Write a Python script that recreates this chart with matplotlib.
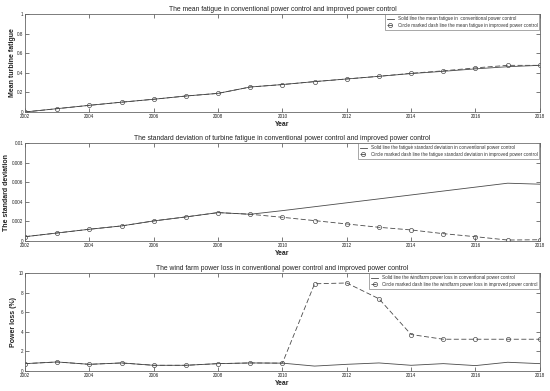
import numpy as np
import matplotlib
matplotlib.use('Agg')
import matplotlib.pyplot as plt
from matplotlib.ticker import FormatStrFormatter

plt.rcParams['font.family'] = ['Liberation Sans', 'DejaVu Sans']

# 年份
years = list(range(2002, 2019))

# 平均疲劳
mean_conv = [0.0, 0.034, 0.068, 0.10, 0.13, 0.163, 0.19, 0.255, 0.28,
             0.31, 0.337, 0.364, 0.392, 0.415, 0.44, 0.462, 0.476]
mean_impr = [0.0, 0.034, 0.068, 0.10, 0.13, 0.163, 0.19, 0.255, 0.28,
             0.31, 0.337, 0.364, 0.395, 0.42, 0.45, 0.476, 0.476]

# 疲劳标准差
std_conv = [0.00044, 0.00082, 0.0012, 0.00154, 0.00205, 0.00246, 0.0029, 0.00273,
            0.0031, 0.0035, 0.0039, 0.0043, 0.0047, 0.0051, 0.0055, 0.0059, 0.0058]
std_impr = [0.00044, 0.00082, 0.0012, 0.00154, 0.00205, 0.00246, 0.0029, 0.00273,
            0.00242, 0.00208, 0.00174, 0.0014, 0.00113, 0.00075, 0.00044, 0.0001, 0.00013]

# 功率损失
loss_conv = [0.75, 0.92, 0.68, 0.82, 0.58, 0.58, 0.75, 0.82, 0.8,
             0.5, 0.68, 0.82, 0.58, 0.75, 0.55, 0.89, 0.75]
loss_impr = [0.75, 0.92, 0.68, 0.82, 0.58, 0.58, 0.75, 0.82, 0.8,
             8.9, 8.98, 7.37, 3.72, 3.24, 3.24, 3.24, 3.24]

titles = [
    'The mean fatigue in conventional power control and improved power control',
    'The standard deviation of turbine fatigue in conventional power control and improved power control',
    'The wind farm power loss in conventional power control and improved power control',
]
ylabels = ['Mean turbine fatigue', 'The standard deviation', 'Power loss (%)']
legends = [
    ['Solid line the mean fatigue in  conventional power control',
     'Circle marked dash line the mean fatigue in improved power control'],
    ['Solid line the fatigue standard deviation in conventional power control',
     'Circle marked dash line the fatigue standard deviation in improved power control'],
    ['Solid line the windfarm power loss in conventional power control',
     'Circle marked dash line the windfarm power loss in improved power control'],
]
ylims = [(0, 1), (0, 0.01), (0, 10)]
yticks = [np.arange(0, 1.01, 0.2), np.arange(0, 0.0101, 0.002), np.arange(0, 10.1, 2)]
series = [(mean_conv, mean_impr), (std_conv, std_impr), (loss_conv, loss_impr)]

fig = plt.figure(figsize=(5.5, 3.91), dpi=100)
bottoms = [0.7136, 0.3836, 0.0512]
ylab_x = [-0.018, -0.030, -0.016]
line_col = '#4a4a4a'
txt_col = '#222222'

for i in range(3):
    ax = fig.add_axes([0.0455, bottoms[i], 0.936, 0.2506])
    conv, impr = series[i]
    ax.plot(years, conv, '-', color=line_col, lw=0.6, label=legends[i][0])
    ax.plot(years, impr, '--', color=line_col, lw=0.6, dashes=(6, 3),
            marker='o', ms=3.0, mfc='none', mec=line_col, mew=0.5,
            label=legends[i][1])
    ax.set_xlim(2002, 2018)
    ax.set_ylim(*ylims[i])
    ax.set_xticks(range(2002, 2019, 2))
    ax.set_yticks(yticks[i])
    ax.yaxis.set_major_formatter(FormatStrFormatter('%g'))
    ax.tick_params(direction='in', top=True, right=True, length=3, width=0.5,
                   labelsize=3.3, pad=1.2, colors='#444444', labelcolor=txt_col)
    for s in ax.spines.values():
        s.set_linewidth(0.6)
        s.set_color('#666666')
    ax.set_title(titles[i], fontsize=4.9, pad=2.5, color=txt_col)
    ax.set_ylabel(ylabels[i], fontsize=5.0, fontweight='bold', color=txt_col)
    ax.yaxis.set_label_coords(ylab_x[i], 0.5)
    leg = ax.legend(loc='upper right', fontsize=3.3, frameon=True, fancybox=False,
                    edgecolor='#666666', borderpad=0.4, labelspacing=0.35,
                    handlelength=1.6, handletextpad=0.8, borderaxespad=0.1)
    leg.get_frame().set_linewidth(0.5)
    for t in leg.get_texts():
        t.set_color('#333333')
    ax.set_xlabel('Year', fontsize=4.9, fontweight='bold', labelpad=1.5, color=txt_col)

fig.savefig('out.png', dpi=100)
